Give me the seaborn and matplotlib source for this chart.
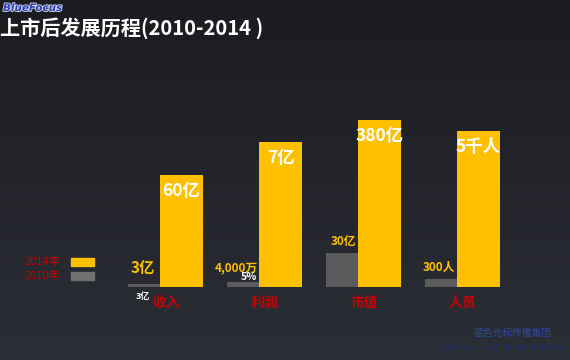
import numpy as np
import matplotlib
matplotlib.use("Agg")
import matplotlib.pyplot as plt
import matplotlib.patheffects as pe
import seaborn as sns

# ============================
# 数据
# ============================
categories = ["收入", "利润", "市值", "人员"]
# 柱子显示高度（示意高度，非真实比例）
height_2014 = [112, 145, 167, 156]
height_2010 = [3, 5, 34, 8]
label_2014 = ["60亿", "7亿", "380亿", "5千人"]
label_2010 = ["3亿", "4,000万", "30亿", "300人"]
legend_labels = ["2014年", "2010年"]

YELLOW = "#FFC000"
GRAY = "#5b5b5b"
RED = "#c80000"
CJK = ["Noto Sans CJK SC", "DejaVu Sans"]

sns.set_theme(style="white")
plt.rcParams["font.family"] = CJK

fig = plt.figure(figsize=(5.7, 3.6), dpi=100)
ax = fig.add_axes([0, 0, 1, 1])

# 背景渐变
grad = np.linspace(0, 1, 256).reshape(-1, 1)
bg = matplotlib.colors.LinearSegmentedColormap.from_list("bg", ["#2c2e36", "#1b1c20"])
ax.imshow(grad, extent=(-1.616, 4.141, -73, 287), aspect="auto", cmap=bg,
          origin="lower", zorder=0)

pos = np.arange(len(categories))
sns.barplot(x=pos + 0.217, y=height_2014, native_scale=True, width=0.434,
            color=YELLOW, saturation=1, linewidth=0, ax=ax, zorder=2)
sns.barplot(x=pos - 0.162, y=height_2010, native_scale=True, width=0.323,
            color=GRAY, saturation=1, linewidth=0, ax=ax, zorder=2)
ax.set_xlim(-1.616, 4.141)
ax.set_ylim(-73, 287)
ax.axis("off")

# 2014 标签（白色，柱内）
for i, (h, t) in enumerate(zip(height_2014, label_2014)):
    ax.text(i + 0.217, h - 16, t, color="white", ha="center", va="center",
            fontsize=12.5, fontweight="bold", zorder=3)

# 2010 标签（黄色，柱左上）
gaps = [-0.05, -0.01, -0.02, -0.02]
sizes = [11, 8.5, 8.5, 8.5]
lifts = [16, 14, 12, 12]
for i, (h, t) in enumerate(zip(height_2010, label_2010)):
    ax.text(i + gaps[i], h + lifts[i], t, color=YELLOW, ha="right", va="center",
            fontsize=sizes[i], fontweight="bold", zorder=3)

# 叠字残影
ax.text(-0.17, -10, "3亿", color="white", ha="center", va="center",
        fontsize=6.5, fontweight="bold", zorder=3)
ax.text(0.9, 10, "5%", color="white", ha="center", va="center",
        fontsize=7.5, fontweight="bold", zorder=3)

# 类别标签
for i, c in enumerate(categories):
    ax.text(i + 0.06, -16, c, color=RED, ha="center", va="center",
            fontsize=10, fontweight="bold", zorder=3)

# 图例
fig.text(25 / 570, 1 - 262 / 360, legend_labels[0], color=RED, fontsize=8,
         va="center", ha="left")
fig.text(25 / 570, 1 - 276 / 360, legend_labels[1], color=RED, fontsize=8,
         va="center", ha="left")
fig.patches.append(plt.Rectangle((71 / 570, 1 - 266 / 360), 23 / 570, 8 / 360,
                                 transform=fig.transFigure, color=YELLOW))
fig.patches.append(plt.Rectangle((71 / 570, 1 - 280 / 360), 23 / 570, 8 / 360,
                                 transform=fig.transFigure, color="#707070"))

# 标题与标识
fig.text(0.0, 1 - 28 / 360, "上市后发展历程(2010-2014 )", color="white",
         fontsize=14.5, fontweight="bold", va="center", ha="left")
fig.text(3 / 570, 1 - 8 / 360, "BlueFocus", color="#2a3fb8", fontsize=7.5,
         fontstyle="italic", fontweight="bold", va="center", ha="left",
         family="DejaVu Sans",
         path_effects=[pe.withStroke(linewidth=1.2, foreground="#d8dcf0")])
fig.text(513 / 570, 1 - 333 / 360, "蓝色光标传播集团", color="#2b4a9a",
         fontsize=7, va="center", ha="center")
fig.text(506 / 570, 1 - 348 / 360, "BlueFocus Communication Group", color="#1f3470",
         fontsize=5.5, va="center", ha="center", family="DejaVu Sans")

fig.savefig("out.png", dpi=100)
plt.close(fig)
